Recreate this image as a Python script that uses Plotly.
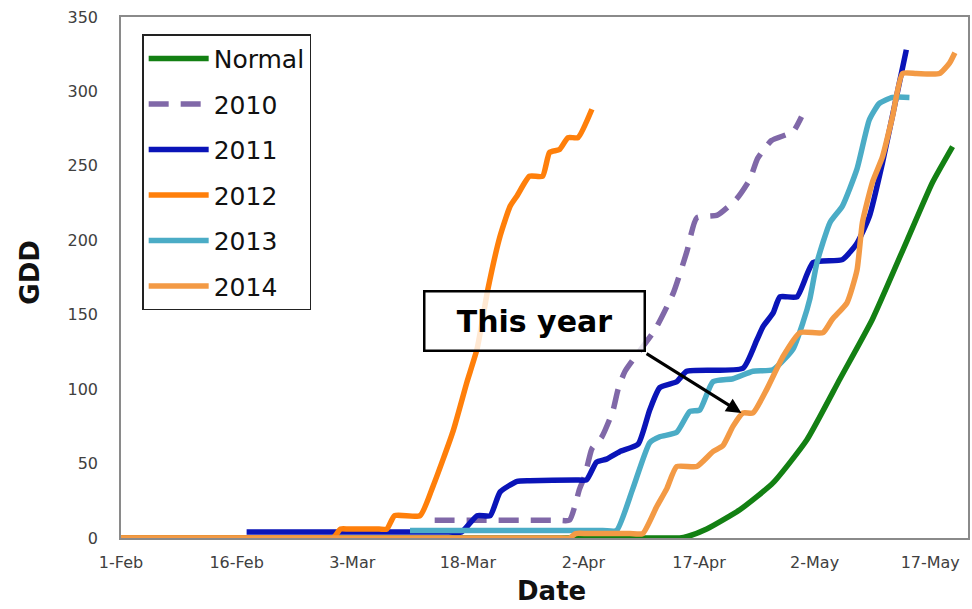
import plotly.graph_objects as go

# x values are days after 1-Feb
tick_days = [0, 15, 30, 45, 60, 75, 90, 105]
tick_labels = ["1-Feb", "16-Feb", "3-Mar", "18-Mar", "2-Apr", "17-Apr", "2-May", "17-May"]

normal_x = [0, 70, 72.5, 73.5, 76, 80.3, 84.6, 89, 93.3, 97.5, 102, 105.3, 107.9]
normal_y = [0, 0, 0, 1, 6, 19, 37, 66, 107, 147, 200, 239, 263]

y2010_x = [40.7, 42.5, 56.5, 58.2, 59.5, 60.2, 61.1, 62.4, 63.8, 64.5, 65.4, 69.3, 71.7,
           73.4, 74.7, 77.4, 79.9, 81.6, 82.6, 84.4, 87.2, 88.3]
y2010_y = [12, 12, 12, 12, 33, 42, 60, 68, 85, 100, 112, 140, 165,
           192, 215, 217, 228, 241, 255, 267, 273, 283]

y2011_x = [16.3, 19, 42.5, 44.2, 46.2, 47.9, 49.2, 51.4, 53, 59, 60.4, 61.7, 63.0, 64.7,
           67.1, 68.6, 69.9, 72.1, 73.4, 80.7, 82.5, 83.3, 84.6, 85.5, 87.7, 89.8, 93.6,
           95.5, 97.1, 98.8, 100.6, 101.9]
y2011_y = [4, 4, 4, 4, 15, 15, 31, 38, 38.5, 39, 39, 51, 53, 58,
           63, 86, 101, 105, 112, 114, 133, 142, 151, 162, 162, 185, 187,
           198, 216, 252, 296, 328]

y2012_x = [0, 26, 27.5, 28.5, 29.5, 33.5, 34.5, 35.5, 38.8, 40.5, 43.1, 44.9, 46.2, 47.6,
           49.2, 50.5, 51.4, 53.0, 54.7, 55.6, 56.9, 58.0, 59.3, 61.1]
y2012_y = [0, 0, 0, 6, 6, 6, 6, 15, 15, 35, 72, 105, 127, 167,
           203, 223, 230, 243, 243, 259, 261, 269, 269, 288]

y2013_x = [37.5, 40, 62.5, 64.3, 66.4, 68.6, 69.9, 72.1, 73.8, 75.1, 76.8, 79.4, 82.0,
           84.6, 87.2, 88.5, 89.4, 90.3, 92.0, 93.6, 95.5, 97.1, 98.4, 100.1, 102.3]
y2013_y = [5, 5, 5, 5, 33, 64, 68, 71, 85, 86, 105, 107, 112,
           113, 127, 145, 161, 185, 212, 223, 248, 281, 292, 296, 296]

y2014_x = [0, 56.5, 58.2, 59.0, 60.5, 66, 67.7, 69.5, 70.8, 72.1, 74.7, 76.8, 78.1, 79.4,
           80.7, 82.0, 83.8, 85.9, 88.1, 91.1, 92.3, 94.2, 95.5, 96.2, 97.5, 98.8, 100.1,
           101.4, 103.2, 106.2, 107.5, 108.2]
y2014_y = [0, 0, 0, 3, 3, 3, 3, 21, 33, 48, 48, 58, 62, 75,
           84, 84, 100, 122, 138, 138, 147, 158, 180, 212, 239, 256, 283,
           312, 312, 312, 319, 326]

series = [
    ("Normal", normal_x, normal_y, "#138013", "solid"),
    ("2010", y2010_x, y2010_y, "#8068A8", "20px,12px"),
    ("2011", y2011_x, y2011_y, "#0A14B8", "solid"),
    ("2012", y2012_x, y2012_y, "#FF7F0A", "solid"),
    ("2013", y2013_x, y2013_y, "#4BACC6", "solid"),
    ("2014", y2014_x, y2014_y, "#F39A45", "solid"),
]

fig = go.Figure()
for i, (name, xs, ys, color, dash) in enumerate(series):
    fig.add_trace(go.Scatter(
        x=xs, y=ys, name=name, mode="lines",
        line=dict(color=color, width=5.5, dash=dash, shape="spline", smoothing=0.5),
        legendgroup=f"g{i}",
    ))

font_fam = "DejaVu Sans, Verdana, sans-serif"

fig.update_layout(
    width=972, height=609,
    margin=dict(l=121, r=4, t=17, b=71),
    paper_bgcolor="white", plot_bgcolor="white",
    showlegend=True,
    legend=dict(
        x=0.025, y=0.967, xanchor="left", yanchor="top",
        bgcolor="white", bordercolor="#222222", borderwidth=1.5,
        font=dict(family=font_fam, size=25, color="#111111"),
        tracegroupgap=10, itemwidth=60, traceorder="grouped",
    ),
    xaxis=dict(
        range=[0, 109.9], tickmode="array", tickvals=tick_days, ticktext=tick_labels,
        showgrid=False, zeroline=False, showline=True, linecolor="#8a8a8a",
        linewidth=1.5, mirror=True, ticks="", automargin=False,
        tickfont=dict(family=font_fam, size=16, color="#404040"),
        ticklabelstandoff=9,
    ),
    yaxis=dict(
        range=[0, 350], tickmode="linear", tick0=0, dtick=50,
        showgrid=False, zeroline=False, showline=True, linecolor="#8a8a8a",
        linewidth=1.5, mirror=True, ticks="", automargin=False,
        tickfont=dict(family=font_fam, size=16, color="#404040"),
        ticklabelstandoff=18,
    ),
)

# axis titles
fig.add_annotation(
    x=0.508, y=-0.135, xref="paper", yref="paper", text="<b>Date</b>", showarrow=False,
    xanchor="center", yanchor="bottom",
    font=dict(family=font_fam, size=26, color="#111111"),
)
fig.add_annotation(
    x=-0.107, y=0.51, xref="paper", yref="paper", text="<b>GDD</b>", showarrow=False,
    xanchor="center", yanchor="middle", textangle=-90,
    font=dict(family=font_fam, size=26, color="#111111"),
)

# "This year" label box
fig.add_annotation(
    x=53.6, y=145.5, xref="x", yref="y", text="<b>This year</b>", showarrow=False,
    font=dict(family=font_fam, size=30, color="#000000"),
    bgcolor="rgba(255,255,255,0.82)", bordercolor="#000000", borderwidth=2.5,
    borderpad=11, width=196,
)
# arrow from box corner to the 2014 line
fig.add_annotation(
    x=80.5, y=84, xref="x", yref="y", ax=68.0, ay=124.5, axref="x", ayref="y",
    text="", showarrow=True, arrowhead=2, arrowsize=1.0, arrowwidth=3,
    arrowcolor="#000000", standoff=0,
)

fig.write_html("out.html", config={"displayModeBar": False},
               post_script="document.body.style.margin='0px';")
